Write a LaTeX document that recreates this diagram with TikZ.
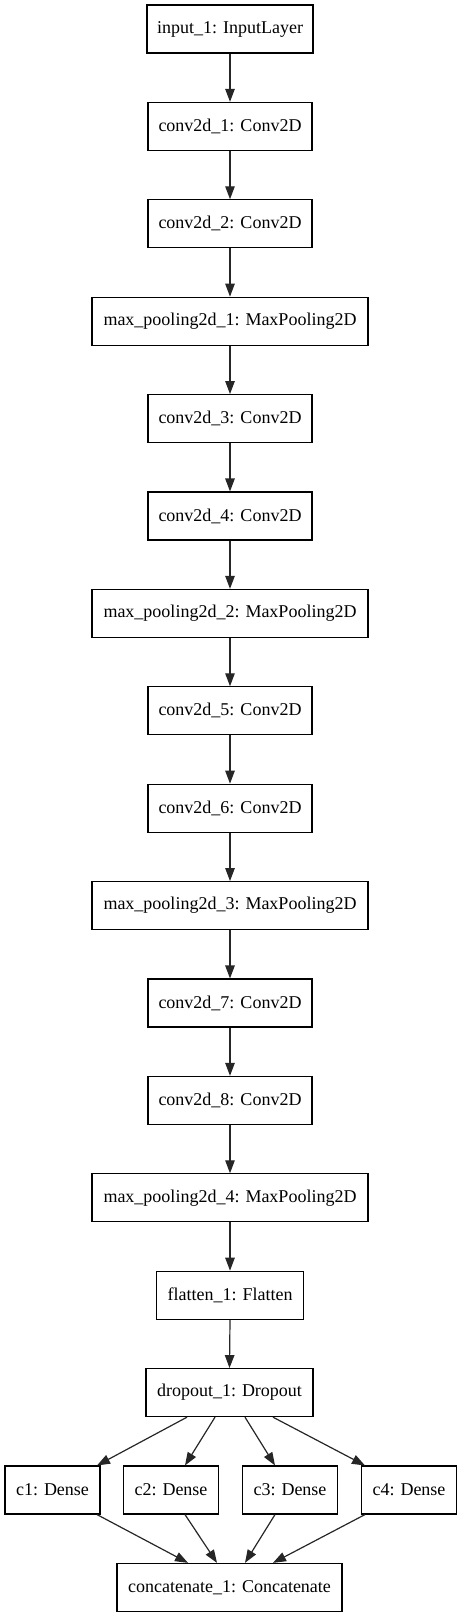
\documentclass[tikz,border=0pt]{standalone}
\usepackage{fontspec}
\setmainfont{Liberation Serif}
\usetikzlibrary{arrows.meta}
\begin{document}
\begin{tikzpicture}[x=1pt,y=1pt,
  layer/.style={draw=black, line width=1.1pt, fill=white, inner sep=0pt,
    minimum height=48pt, font=\fontsize{18}{22}\selectfont},
  arr/.style={draw=black!85, line width=1.2pt, -{Triangle[length=13pt,width=9.5pt]}}]
\useasboundingbox (0,0) rectangle (461,-1617);
\node[layer, minimum width=166pt] (in) at (230,-29) {input\_1: InputLayer};
\node[layer, minimum width=164pt] (c1c) at (230,-126.4) {conv2d\_1: Conv2D};
\node[layer, minimum width=164pt] (c2c) at (230,-223.8) {conv2d\_2: Conv2D};
\node[layer, minimum width=276pt] (mp1) at (230,-321.2) {max\_pooling2d\_1: MaxPooling2D};
\node[layer, minimum width=164pt] (c3c) at (230,-418.6) {conv2d\_3: Conv2D};
\node[layer, minimum width=164pt] (c4c) at (230,-516) {conv2d\_4: Conv2D};
\node[layer, minimum width=276pt] (mp2) at (230,-613.4) {max\_pooling2d\_2: MaxPooling2D};
\node[layer, minimum width=164pt] (c5c) at (230,-710.8) {conv2d\_5: Conv2D};
\node[layer, minimum width=164pt] (c6c) at (230,-808.2) {conv2d\_6: Conv2D};
\node[layer, minimum width=276pt] (mp3) at (230,-905.6) {max\_pooling2d\_3: MaxPooling2D};
\node[layer, minimum width=164pt] (c7c) at (230,-1003) {conv2d\_7: Conv2D};
\node[layer, minimum width=164pt] (c8c) at (230,-1100.4) {conv2d\_8: Conv2D};
\node[layer, minimum width=276pt] (mp4) at (230,-1197.8) {max\_pooling2d\_4: MaxPooling2D};
\node[layer, minimum width=147pt] (fl) at (230,-1295.2) {flatten\_1: Flatten};
\node[layer, minimum width=167pt] (dr) at (229.5,-1392.6) {dropout\_1: Dropout};
\node[layer, minimum width=95pt] (d1) at (52.5,-1490) {c1: Dense};
\node[layer, minimum width=95pt] (d2) at (171,-1490) {c2: Dense};
\node[layer, minimum width=95pt] (d3) at (290,-1490) {c3: Dense};
\node[layer, minimum width=95pt] (d4) at (409,-1490) {c4: Dense};
\node[layer, minimum width=225pt] (cat) at (229.5,-1587.4) {concatenate\_1: Concatenate};
\foreach \a/\b in {in/c1c, c1c/c2c, c2c/mp1, mp1/c3c, c3c/c4c, c4c/mp2, mp2/c5c, c5c/c6c, c6c/mp3, mp3/c7c, c7c/c8c, c8c/mp4, mp4/fl, fl/dr}
  \draw[arr] (\a.south) -- (\b.north);
\draw[arr] ([xshift=-42.5pt]dr.south) -- ([xshift=44.5pt]d1.north);
\draw[arr] ([xshift=-14.5pt]dr.south) -- ([xshift=14pt]d2.north);
\draw[arr] ([xshift=15.5pt]dr.south) -- ([xshift=-15pt]d3.north);
\draw[arr] ([xshift=43.5pt]dr.south) -- ([xshift=-44pt]d4.north);
\draw[arr] ([xshift=44.5pt]d1.south) -- ([xshift=-41.5pt]cat.north);
\draw[arr] ([xshift=14pt]d2.south) -- ([xshift=-12.5pt]cat.north);
\draw[arr] ([xshift=-15pt]d3.south) -- ([xshift=15.5pt]cat.north);
\draw[arr] ([xshift=-44pt]d4.south) -- ([xshift=43.5pt]cat.north);
\end{tikzpicture}
\end{document}
